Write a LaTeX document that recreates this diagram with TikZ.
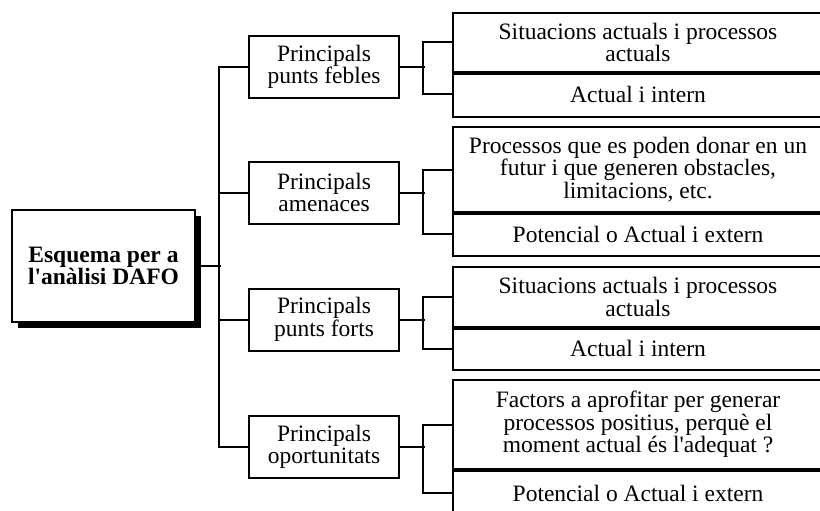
\documentclass[tikz,border=0pt]{standalone}
\usepackage{fontspec}
\setmainfont{Liberation Serif}
\usetikzlibrary{shadows}
\tikzset{
  txt/.style={font=\fontsize{23.5}{22.5}\selectfont, align=center, inner sep=0pt},
  mainbox/.style={txt, draw, line width=2pt, fill=white, minimum width=183pt, minimum height=112pt,
    font=\fontsize{23.5}{21.5}\selectfont\bfseries,
    drop shadow={shadow xshift=6pt, shadow yshift=-6pt, fill=black, opacity=1}},
  catbox/.style={txt, draw, line width=2pt, minimum width=150pt, minimum height=62pt},
  itembox/.style={txt, draw, line width=2pt, minimum width=370pt},
  link/.style={line width=2pt},
  divider/.style={line width=3.5pt},
}
\begin{document}
\begin{tikzpicture}[x=1pt,y=-1pt]
\useasboundingbox (0,0) rectangle (820,511);
\clip (0,0) rectangle (820,511);
\fill[white] (0,0) rectangle (820,511);

\node[mainbox] (main) at (103.5,266) {Esquema per a\\l\textquotesingle anàlisi DAFO};

\node[catbox] (A) at (324,67) {Principals\\punts febles};
\node[catbox] (B) at (324,192.5) {Principals\\amenaces};
\node[catbox] (C) at (324,319.5) {Principals\\punts forts};
\node[catbox] (D) at (324,447) {Principals\\oportunitats};

\node[itembox, minimum height=59pt] (A1) at (638,42.5) {Situacions actuals i processos\\actuals};
\node[itembox, minimum height=45pt] (A2) at (638,94.5) {Actual i intern};
\node[itembox, minimum height=85pt] (B1) at (638,169.5) {Processos que es poden donar en un\\futur i que generen obstacles,\\limitacions, etc.};
\node[itembox, minimum height=44pt] (B2) at (638,234) {Potencial o Actual i extern};
\node[itembox, minimum height=60pt] (C1) at (638,297) {Situacions actuals i processos\\actuals};
\node[itembox, minimum height=43pt] (C2) at (638,348.5) {Actual i intern};
\node[itembox, minimum height=89pt] (D1) at (638,424.5) {Factors a aprofitar per generar\\processos positius, perquè el\\moment actual és l\textquotesingle adequat ?};
\node[itembox, minimum height=48pt] (D2) at (638,493) {Potencial o Actual i extern};

\draw[divider] (A1.south west) -- (A1.south east);
\draw[divider] (B1.south west) -- (B1.south east);
\draw[divider] (C1.south west) -- (C1.south east);
\draw[divider] (D1.south west) -- (D1.south east);

% trunk
\draw[link] (main.east) -- ++(25,0);
\draw[link] (A.west) -- ++(-29,0) |- (D.west);
\draw[link] (B.west) -- ++(-29,0);
\draw[link] (C.west) -- ++(-29,0);

% brackets
\draw[link] (A.east) -- ++(25,0);
\draw[link] (B.east) -- ++(25,0);
\draw[link] (C.east) -- ++(25,0);
\draw[link] (D.east) -- ++(25,0);
\draw[link] (A1.west) -- ++(-29,0) |- (A2.west);
\draw[link] (B1.west) -- ++(-29,0) |- (B2.west);
\draw[link] (C1.west) -- ++(-29,0) |- (C2.west);
\draw[link] (D1.west) -- ++(-29,0) |- (D2.west);
\end{tikzpicture}
\end{document}
